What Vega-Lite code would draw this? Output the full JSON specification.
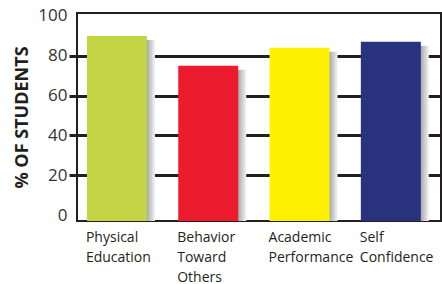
{
  "$schema": "https://vega.github.io/schema/vega-lite/v6.json",
  "autosize": "none",
  "width": 364,
  "height": 208,
  "padding": {"left": 77, "top": 13, "right": 1, "bottom": 63},
  "background": "white",
  "config": {
    "view": {"stroke": "#231f20", "strokeWidth": 2},
    "font": "Open Sans"
  },
  "data": {
    "values": [
      {"area": "Physical Education", "pct": 90, "color": "#c3d544"},
      {"area": "Behavior Toward Others", "pct": 75, "color": "#ec1c2e"},
      {"area": "Academic Performance", "pct": 84, "color": "#fff100"},
      {"area": "Self Confidence", "pct": 87, "color": "#29327f"}
    ]
  },
  "encoding": {
    "x": {
      "field": "area",
      "type": "nominal",
      "sort": null,
      "scale": {"paddingInner": 0.343, "paddingOuter": 0.165, "align": 0.33},
      "axis": {
        "title": null,
        "domain": false,
        "ticks": false,
        "labelAngle": 0,
        "labelAlign": "left",
        "labelOffset": -31,
        "labelBaseline": "top",
        "labelPadding": 9,
        "labelFontSize": 14,
        "labelLineHeight": 20,
        "labelColor": "#231f20",
        "labelExpr": "split(datum.label, ' ')"
      }
    },
    "y": {
      "field": "pct",
      "type": "quantitative",
      "scale": {"domain": [-3, 101.5], "nice": false, "zero": false},
      "axis": {
        "title": "% OF STUDENTS",
        "titleFontSize": 18,
        "titleFontWeight": "bold",
        "titleColor": "#231f20",
        "titlePadding": 6,
        "values": [0, 20, 40, 60, 80, 100],
        "domain": false,
        "tickSize": 8,
        "tickWidth": 3,
        "tickColor": "#231f20",
        "tickOpacity": {"condition": {"test": "datum.value == 0 || datum.value == 100", "value": 0}, "value": 1},
        "grid": true,
        "gridWidth": 3,
        "gridColor": "#231f20",
        "gridOpacity": {"condition": {"test": "datum.value == 0 || datum.value == 100", "value": 0}, "value": 1},
        "labelFontSize": 17,
        "labelColor": "#333333",
        "labelPadding": 2
      }
    }
  },
  "layer": [
    {
      "mark": {
        "type": "bar",
        "xOffset": 8,
        "yOffset": 4,
        "fill": {
          "gradient": "linear",
          "x1": 0, "y1": 0, "x2": 1, "y2": 0,
          "stops": [
            {"offset": 0, "color": "#9a9a9a"},
            {"offset": 0.86, "color": "#a5a5a5"},
            {"offset": 1, "color": "#f4f4f4"}
          ]
        }
      },
      "encoding": {"y2": {"datum": -3}}
    },
    {
      "mark": {"type": "bar"},
      "encoding": {
        "y2": {"datum": -3},
        "color": {"field": "color", "type": "nominal", "scale": null, "legend": null}
      }
    }
  ]
}
